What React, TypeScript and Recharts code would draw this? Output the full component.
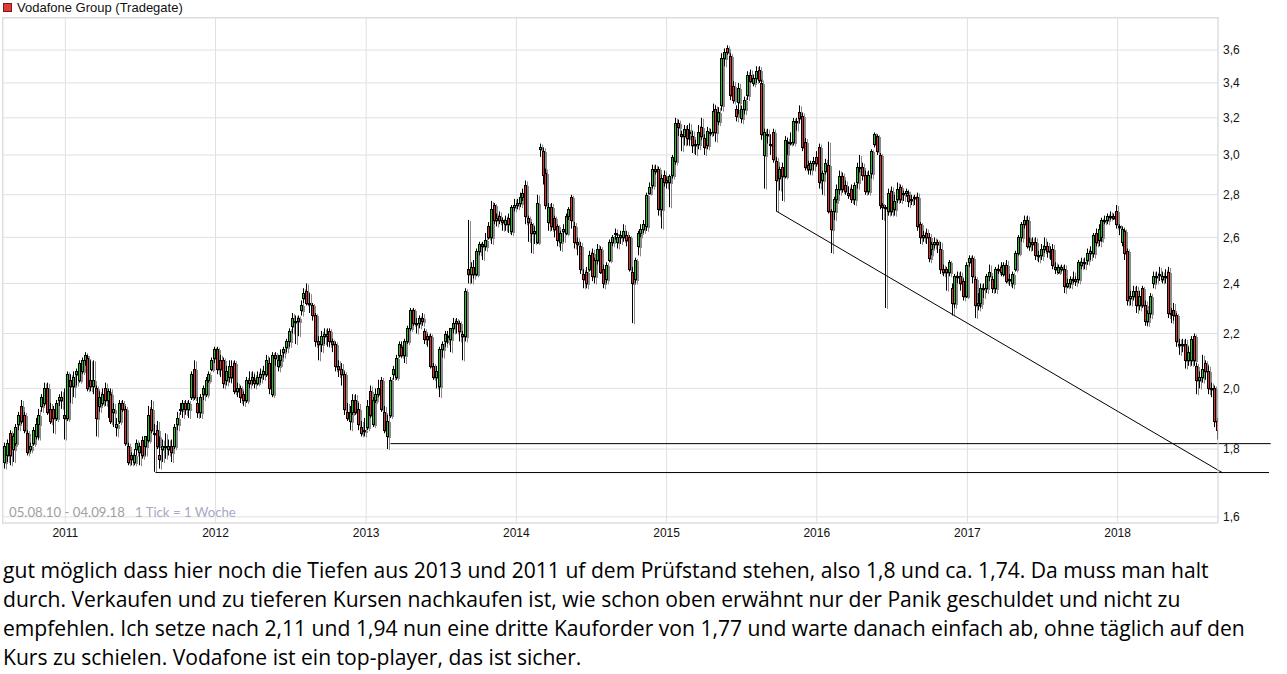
import { Bar, CartesianGrid, ComposedChart, ReferenceLine, XAxis, YAxis } from 'recharts';

// weekly candles (Tradegate, EUR), values in cents: [open, high, low, close]
// Aug 2010 - Nov 2011
const ohlcA = [
  [176, 182, 174, 181], [178, 183, 176, 182], [185, 186, 175, 178], [180, 185, 176, 184], [182, 188, 181, 187],
  [188, 192, 186, 191], [194, 196, 188, 189], [191, 192, 185, 186], [185, 186, 178, 179], [180, 182, 179, 181],
  [182, 187, 181, 186], [184, 190, 183, 188], [188, 193, 183, 191], [194, 198, 192, 197], [195, 202, 194, 200],
  [200, 202, 191, 192], [193, 195, 188, 189], [193, 194, 185, 190], [190, 196, 189, 195], [196, 198, 194, 197],
  [197, 199, 193, 196], [191, 200, 183, 190], [190, 206, 189, 205], [203, 205, 195, 201], [201, 206, 197, 204],
  [205, 207, 201, 206], [203, 210, 202, 209], [206, 211, 205, 210], [210, 213, 208, 212], [211, 212, 199, 200],
  [203, 210, 199, 201], [201, 210, 198, 203], [200, 201, 184, 190], [194, 199, 192, 197], [195, 200, 194, 198],
  [200, 202, 194, 196], [196, 200, 190, 199], [198, 200, 188, 189], [192, 195, 187, 193], [187, 190, 184, 188],
  [189, 196, 188, 195], [195, 196, 192, 193], [193, 194, 181, 182], [181, 182, 175, 176], [178, 179, 175, 177],
  [176, 180, 175, 178], [180, 183, 178, 182], [179, 182, 175, 181], [183, 184, 177, 178], [181, 184, 178, 184],
  [183, 194, 182, 191], [193, 196, 185, 186], [185, 188, 173, 185], [186, 189, 180, 181], [178, 184, 174, 177],
  [180, 183, 176, 181], [181, 185, 177, 181], [180, 183, 178, 181], [181, 183, 176, 179], [181, 188, 180, 187],
  [188, 192, 186, 190], [193, 195, 191, 193], [193, 196, 190, 195], [195, 196, 191, 193], [193, 196, 190, 195],
  [197, 206, 196, 205], [207, 210, 196, 197], [195, 197, 190, 192],
];

// Nov 2011 - Mar 2013
const ohlcB = [
  [192, 198, 190, 197], [198, 201, 196, 200], [198, 204, 197, 203], [203, 206, 202, 205], [207, 211, 206, 210],
  [211, 215, 209, 214], [214, 215, 205, 207], [210, 212, 204, 207], [210, 211, 200, 202], [203, 208, 201, 206],
  [204, 210, 202, 208], [208, 210, 202, 204], [209, 210, 198, 199], [199, 202, 197, 200], [200, 201, 195, 197],
  [198, 199, 194, 196], [196, 204, 195, 203], [203, 206, 200, 202], [203, 206, 201, 204], [203, 205, 200, 202],
  [202, 206, 201, 204], [204, 207, 202, 205], [205, 208, 203, 206], [205, 212, 204, 210], [209, 211, 198, 200],
  [198, 213, 197, 212], [212, 213, 208, 211], [208, 212, 206, 210], [210, 214, 208, 212], [213, 215, 211, 214],
  [215, 218, 213, 217], [217, 222, 215, 221], [223, 228, 220, 226], [225, 227, 216, 225], [226, 227, 219, 225],
  [229, 233, 227, 231], [234, 238, 232, 236], [237, 240, 231, 232], [232, 236, 228, 232], [231, 232, 225, 227],
  [227, 228, 215, 217], [217, 219, 210, 216], [216, 221, 213, 219], [219, 222, 216, 220], [219, 222, 215, 220],
  [221, 222, 215, 217], [217, 218, 213, 216], [216, 217, 206, 208], [208, 210, 204, 207], [207, 209, 201, 205],
  [205, 206, 191, 193], [192, 195, 189, 190], [189, 194, 186, 192], [192, 198, 191, 196], [196, 198, 191, 192],
  [193, 195, 186, 188], [187, 189, 184, 185], [186, 190, 184, 186], [187, 196, 186, 194], [199, 201, 190, 191],
  [188, 197, 187, 196], [196, 200, 195, 198], [198, 203, 197, 200], [203, 204, 192, 193], [192, 194, 185, 186],
  [184, 191, 180, 189], [191, 204, 190, 203], [205, 208, 203, 207], [204, 212, 203, 211], [212, 217, 211, 216],
  [215, 217, 211, 212],
];

// Mar 2013 - Jul 2014
const ohlcC = [
  [212, 218, 209, 217], [217, 223, 216, 222], [222, 230, 221, 229], [229, 230, 223, 224], [224, 226, 220, 224],
  [224, 227, 222, 226], [226, 228, 223, 225], [221, 222, 216, 218], [219, 220, 215, 218], [219, 220, 207, 208],
  [208, 209, 203, 204], [204, 208, 200, 206], [201, 215, 197, 214], [214, 217, 211, 216], [217, 221, 215, 220],
  [219, 221, 216, 219], [218, 222, 213, 222], [222, 226, 220, 224], [225, 226, 220, 224], [224, 225, 217, 221],
  [220, 221, 210, 219], [219, 238, 217, 237], [246, 268, 240, 244], [244, 249, 240, 247], [247, 250, 242, 244],
  [244, 255, 243, 254], [254, 258, 252, 257], [257, 258, 250, 256], [256, 262, 254, 259], [265, 267, 259, 260],
  [260, 277, 257, 273], [275, 276, 266, 268], [268, 271, 265, 269], [270, 272, 266, 268], [268, 269, 263, 267],
  [266, 270, 263, 268], [269, 271, 262, 266], [263, 275, 261, 274], [274, 278, 272, 275], [275, 278, 273, 276],
  [276, 281, 274, 279], [279, 283, 277, 281], [285, 287, 266, 270], [269, 270, 258, 267], [266, 267, 253, 262],
  [262, 265, 257, 263], [258, 280, 257, 276], [303, 306, 299, 304], [302, 304, 285, 290], [291, 293, 273, 275],
  [267, 276, 263, 274], [274, 276, 263, 265], [269, 270, 260, 264], [265, 266, 256, 259], [258, 263, 254, 262],
  [263, 266, 258, 264], [262, 271, 261, 270], [270, 274, 268, 273], [279, 280, 264, 268], [265, 267, 255, 258],
  [258, 260, 252, 257], [256, 258, 244, 246], [244, 246, 238, 242], [245, 247, 238, 240], [246, 254, 245, 252],
  [253, 255, 241, 243], [243, 251, 240, 250], [250, 257, 248, 255], [255, 256, 244, 245],
];

// Jul 2014 - Nov 2015
const ohlcD = [
  [246, 248, 238, 240], [242, 249, 240, 248], [250, 259, 249, 258], [258, 261, 256, 260], [262, 264, 259, 262],
  [258, 262, 255, 260], [261, 263, 257, 260], [260, 266, 258, 263], [261, 263, 256, 259], [260, 261, 245, 246],
  [245, 247, 224, 240], [242, 251, 240, 250], [256, 263, 252, 262], [262, 266, 260, 264], [264, 268, 262, 266],
  [265, 281, 263, 280], [281, 286, 280, 284], [285, 295, 283, 293], [293, 295, 290, 292], [293, 294, 270, 273],
  [273, 290, 264, 288], [290, 292, 284, 286], [287, 289, 283, 286], [286, 290, 274, 289], [290, 300, 288, 299],
  [297, 320, 295, 317], [317, 319, 310, 315], [311, 313, 302, 310], [310, 316, 305, 314], [314, 316, 305, 309],
  [312, 317, 305, 312], [310, 313, 301, 305], [305, 308, 300, 306], [306, 316, 303, 312], [315, 320, 308, 310],
  [309, 311, 300, 304], [305, 315, 303, 313], [312, 314, 310, 312], [312, 328, 310, 324], [325, 327, 307, 312],
  [318, 326, 316, 323], [327, 358, 324, 355], [355, 361, 350, 359], [361, 363, 357, 359], [356, 358, 330, 333],
  [338, 341, 328, 330], [325, 327, 318, 321], [329, 340, 322, 337], [320, 327, 317, 325], [325, 332, 322, 330],
  [333, 347, 330, 345], [345, 348, 340, 341], [340, 345, 338, 343], [343, 350, 340, 347], [348, 350, 340, 342],
  [340, 342, 308, 311], [300, 314, 283, 312], [311, 314, 306, 311], [306, 311, 300, 306], [312, 314, 296, 298],
  [297, 299, 272, 287], [288, 294, 282, 293], [294, 296, 277, 289], [289, 310, 288, 308], [307, 309, 300, 307],
  [307, 312, 305, 307], [307, 320, 305, 318], [318, 320, 313, 318], [323, 327, 317, 320],
];

// Dec 2015 - Apr 2017
const ohlcE = [
  [321, 323, 302, 304], [307, 309, 292, 294], [295, 297, 290, 293], [293, 297, 290, 296], [296, 299, 292, 297],
  [299, 302, 294, 296], [304, 306, 283, 286], [287, 292, 280, 291], [292, 298, 290, 296], [295, 307, 271, 272],
  [272, 273, 253, 264], [272, 279, 268, 278], [278, 285, 276, 283], [283, 292, 280, 289], [289, 291, 281, 283],
  [285, 287, 280, 282], [281, 284, 278, 280], [283, 285, 276, 278], [278, 286, 275, 285], [286, 296, 283, 294],
  [294, 300, 291, 294], [294, 296, 287, 290], [290, 292, 280, 282], [282, 292, 280, 290], [291, 303, 288, 302],
  [306, 312, 304, 311], [310, 311, 300, 302], [300, 301, 273, 275], [275, 276, 268, 274], [274, 275, 230, 274],
  [272, 283, 270, 281], [282, 284, 270, 272], [273, 280, 270, 277], [278, 286, 276, 283], [284, 285, 276, 278],
  [281, 282, 277, 281], [281, 283, 279, 282], [280, 282, 274, 277], [278, 280, 275, 278], [279, 280, 275, 279],
  [279, 281, 263, 265], [266, 267, 257, 260], [260, 263, 258, 261], [262, 264, 257, 260], [260, 262, 249, 251],
  [255, 258, 252, 257], [257, 260, 255, 258], [258, 259, 253, 257], [255, 258, 244, 246], [246, 248, 243, 245],
  [246, 247, 237, 245], [245, 250, 243, 249], [238, 240, 227, 232], [232, 244, 230, 243], [243, 245, 240, 243],
  [243, 245, 237, 240], [241, 242, 233, 235], [235, 249, 234, 248], [249, 252, 247, 251], [251, 252, 240, 243],
  [242, 243, 226, 231], [231, 236, 229, 232], [232, 240, 230, 238], [238, 240, 234, 238], [238, 244, 236, 243],
  [243, 248, 241, 245], [242, 243, 236, 238], [238, 247, 236, 246], [246, 248, 244, 246], [247, 249, 243, 245],
  [244, 249, 243, 248],
];

// Apr 2017 - Sep 2018
const ohlcF = [
  [248, 250, 240, 241], [242, 244, 239, 242], [240, 245, 238, 244], [246, 254, 245, 253], [253, 261, 252, 260],
  [260, 267, 258, 266], [266, 270, 264, 268], [268, 270, 255, 256], [256, 260, 254, 258], [258, 260, 254, 257],
  [258, 260, 250, 252], [252, 254, 249, 252], [252, 257, 250, 255], [255, 260, 253, 256], [256, 258, 251, 254],
  [254, 256, 250, 254], [255, 257, 246, 248], [247, 249, 244, 246], [245, 248, 244, 247], [246, 248, 245, 247],
  [246, 248, 236, 239], [239, 242, 238, 240], [240, 243, 238, 242], [242, 245, 240, 242], [242, 243, 239, 241],
  [242, 250, 240, 249], [248, 251, 246, 249], [249, 251, 246, 249], [250, 255, 248, 253], [253, 256, 250, 254],
  [253, 262, 251, 261], [262, 264, 256, 258], [259, 266, 256, 264], [260, 269, 258, 268], [268, 270, 266, 268],
  [268, 271, 266, 270], [270, 272, 268, 270], [270, 271, 268, 269], [272, 275, 264, 266], [265, 266, 261, 265],
  [258, 265, 256, 264], [263, 264, 250, 253], [254, 255, 231, 233], [234, 237, 231, 235], [235, 239, 233, 237],
  [237, 239, 228, 231], [231, 237, 229, 235], [238, 239, 230, 231], [231, 233, 223, 225], [225, 229, 223, 228],
  [228, 236, 226, 235], [240, 245, 238, 243], [243, 245, 240, 243], [244, 247, 241, 244], [242, 245, 240, 243],
  [243, 246, 240, 243], [245, 247, 226, 228], [228, 230, 224, 228], [229, 232, 225, 227], [227, 228, 215, 217],
  [216, 218, 212, 216], [216, 218, 213, 216], [216, 218, 207, 210], [210, 215, 208, 213], [210, 219, 208, 218],
  [219, 220, 208, 210], [208, 209, 198, 203], [203, 206, 200, 204], [204, 212, 202, 207], [209, 210, 203, 206],
  [206, 208, 198, 200], [200, 202, 197, 200], [200, 201, 187, 189], [189, 190, 183, 186],
];

const yearTicks = [2011, 2012, 2013, 2014, 2015, 2016, 2017, 2018];
const priceTicks = [1.6, 1.8, 2.0, 2.2, 2.4, 2.6, 2.8, 3.0, 3.2, 3.4, 3.6];

// hand drawn support / trend lines: [fromDate, fromPrice, toDate, toPrice]
const drawnLines: [string, number, string, number][] = [
  ['2011-08-08', 1.728, '2019-01-04', 1.728],
  ['2013-03-01', 1.817, '2019-01-08', 1.817],
  ['2015-09-24', 2.722, '2018-09-12', 1.728],
];

const textLines = [
  'gut möglich dass hier noch die Tiefen aus 2013 und 2011 uf dem Prüfstand stehen, also 1,8 und ca. 1,74. Da muss man halt',
  'durch. Verkaufen und zu tieferen Kursen nachkaufen ist, wie schon oben erwähnt nur der Panik geschuldet und nicht zu',
  'empfehlen. Ich setze nach 2,11 und 1,94 nun eine dritte Kauforder von 1,77 und warte danach einfach ab, ohne täglich auf den',
  'Kurs zu schielen. Vodafone ist ein top-player, das ist sicher.',
];

const DAY = 86400000;
const START = Date.UTC(2010, 7, 5);

const candles = [...ohlcA, ...ohlcB, ...ohlcC, ...ohlcD, ...ohlcE, ...ohlcF].map(([o, h, l, c], i) => ({
  t: START + i * 7 * DAY,
  open: o / 100,
  high: Math.max(h, o, c) / 100,
  low: Math.min(l, o, c) / 100,
  close: c / 100,
  range: [Math.min(l, o, c) / 100, Math.max(h, o, c) / 100],
}));

const UP = '#1fc41f';
const DOWN = '#e52b2b';
const SHADOW = '#8a8a8a';
const FONT = '"Liberation Sans", Arial, sans-serif';

const Candle = (props: any) => {
  const { x, y, width, height, payload } = props;
  if (!payload || height == null) return null;
  const { open, close, high, low } = payload;
  const lh = Math.log(high);
  const span = lh - Math.log(low) || 1;
  const py = (v: number) => y + (height * (lh - Math.log(v))) / span;
  const rx = Math.round(x + width / 2) - 1;
  const top = Math.round(Math.min(py(open), py(close)));
  const bottom = Math.round(Math.max(py(open), py(close)));
  const bh = Math.max(bottom - top, 1);
  return (
    <g>
      <line x1={rx + 3.5} x2={rx + 3.5} y1={y + 1} y2={y + height + 1} stroke={SHADOW} />
      <rect x={rx + 2} y={top + 1} width={3} height={bh + 1} fill={SHADOW} />
      <line x1={rx + 1.5} x2={rx + 1.5} y1={y} y2={y + height} stroke="#000" />
      <rect x={rx + 0.5} y={top + 0.5} width={2} height={bh} fill={close >= open ? UP : DOWN} stroke="#000" />
    </g>
  );
};

const CandleChart = () => {
  const last = candles[candles.length - 1].t;
  return (
    <ComposedChart width={1287} height={545} data={candles} margin={{ top: 18, right: 0, left: 3, bottom: 0 }}>
      <CartesianGrid stroke="#e0e0e0" />
      <XAxis
        dataKey="t"
        type="number"
        domain={[START - 2.5 * DAY, last + 3 * DAY]}
        allowDataOverflow
        ticks={yearTicks.map((yr) => Date.UTC(yr, 0, 1))}
        interval={0}
        tickFormatter={(v) => String(new Date(v).getUTCFullYear())}
        height={22}
        axisLine={{ stroke: '#ddd' }}
        tickLine={false}
        tickSize={0}
        tickMargin={5}
        tick={{ fontSize: 12, fill: '#111', fontFamily: FONT }}
      />
      <YAxis
        orientation="right"
        scale="log"
        domain={[1.583, 3.806]}
        allowDataOverflow
        ticks={priceTicks}
        interval={0}
        tickFormatter={(v) => v.toFixed(1).replace('.', ',')}
        width={69}
        axisLine={{ stroke: '#ddd' }}
        tickLine={false}
        tickSize={0}
        tickMargin={5}
        tick={{ fontSize: 12, fill: '#111', fontFamily: FONT }}
      />
      <Bar dataKey="range" barSize={3} shape={<Candle />} isAnimationActive={false} />
      {drawnLines.map(([d1, p1, d2, p2]) => (
        <ReferenceLine
          key={d1}
          segment={[{ x: Date.parse(d1), y: p1 }, { x: Date.parse(d2), y: p2 }]}
          stroke="#000"
          strokeWidth={1}
          ifOverflow="visible"
        />
      ))}
    </ComposedChart>
  );
};

export default function App() {
  return (
    <div style={{ position: 'absolute', left: 0, top: 0, width: 1287, height: 674, background: '#fff', overflow: 'hidden' }}>
      <div style={{ position: 'absolute', left: 3, top: 3, width: 7, height: 7, background: '#e53935', border: '1px solid #7a1a1a' }} />
      <div style={{ position: 'absolute', left: 17, top: 0, fontFamily: FONT, fontSize: 13, lineHeight: '15px', color: '#111' }}>
        Vodafone Group (Tradegate)
      </div>
      <div style={{ position: 'absolute', left: 0, top: 0 }}>
        <CandleChart />
      </div>
      <div style={{ position: 'absolute', left: 2, top: 17, width: 1216, height: 506, borderLeft: '1px solid #ddd', borderTop: '1px solid #ddd', pointerEvents: 'none' }} />
      <div style={{ position: 'absolute', left: 9, top: 504, fontFamily: 'Lato, sans-serif', fontSize: 13.2, color: '#a0a0a0', whiteSpace: 'pre' }}>
        {'05.08.10 - 04.09.18   '}
        <span style={{ color: '#a4aac4' }}>1 Tick = 1 Woche</span>
      </div>
      <div style={{ position: 'absolute', left: 3, top: 555, fontFamily: '"Open Sans", sans-serif', fontSize: 21.1, lineHeight: '29px', color: '#000', whiteSpace: 'nowrap' }}>
        {textLines.map((line) => (
          <div key={line}>{line}</div>
        ))}
      </div>
    </div>
  );
}
